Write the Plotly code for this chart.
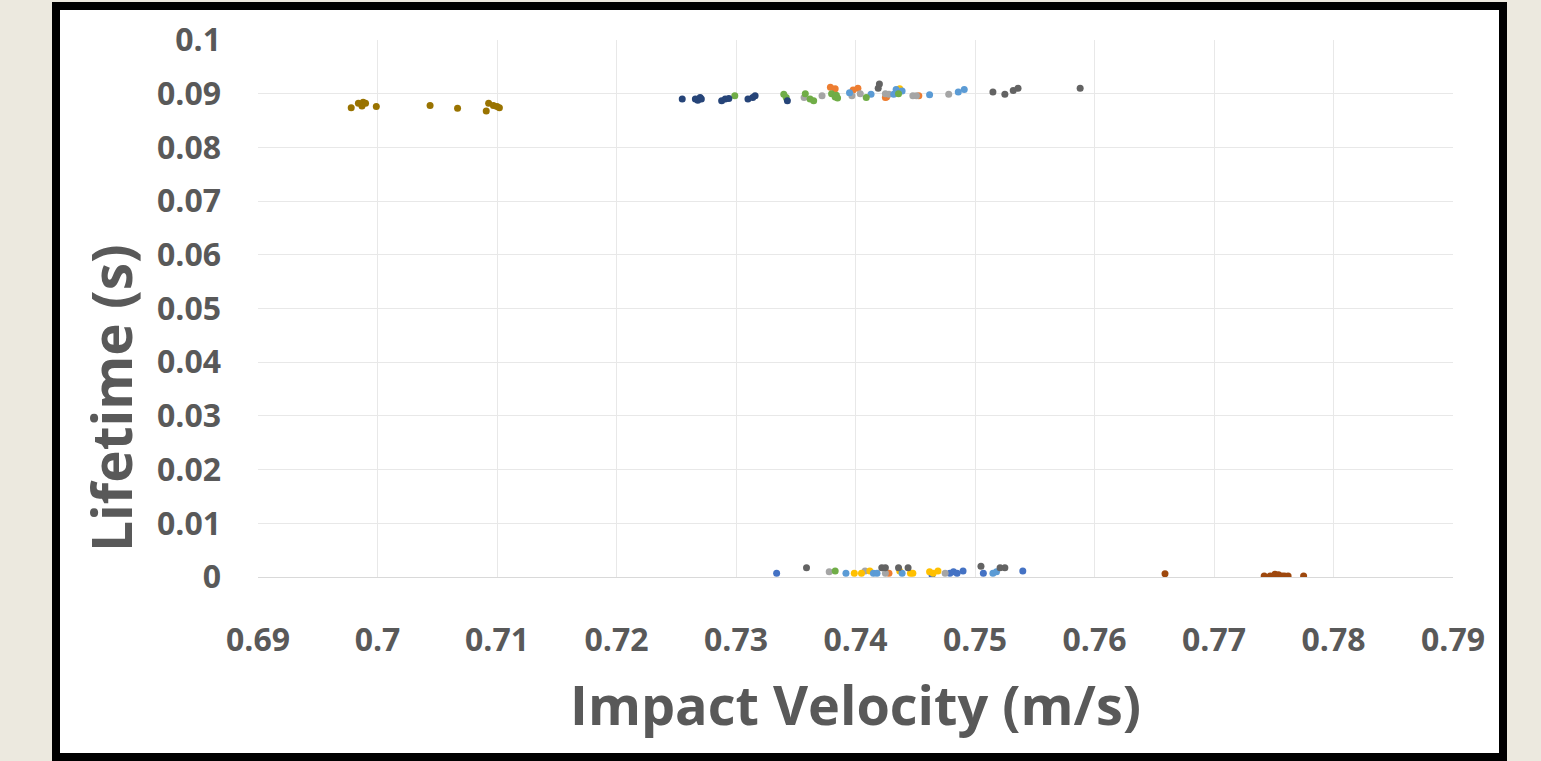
import plotly.graph_objects as go

# ---------------- data ----------------
gold_x = [0.6978, 0.6984, 0.6987, 0.6988, 0.6990, 0.6999, 0.7044, 0.7067, 0.7091, 0.7093, 0.7097, 0.7100, 0.7102]
gold_y = [0.0874, 0.0882, 0.0877, 0.0884, 0.0882, 0.0876, 0.0878, 0.0873, 0.0868, 0.0882, 0.0878, 0.0876, 0.0874]

navy_x = [0.7255, 0.7266, 0.7268, 0.7270, 0.7271, 0.7288, 0.7291, 0.7294, 0.7310, 0.7314, 0.7316, 0.7343]
navy_y = [0.0890, 0.0890, 0.0888, 0.0893, 0.0890, 0.0887, 0.0890, 0.0891, 0.0890, 0.0893, 0.0896, 0.0887]

green_x = [0.7299, 0.7340, 0.7342, 0.7358, 0.7362, 0.7365, 0.7380, 0.7383, 0.7385, 0.7384, 0.7409, 0.7436, 0.7383]
green_y = [0.0896, 0.0899, 0.0893, 0.0900, 0.0890, 0.0887, 0.0900, 0.0894, 0.0892, 0.0897, 0.0893, 0.0900, 0.0011]

gray_x = [0.7357, 0.7372, 0.7397, 0.7404, 0.7425, 0.7428, 0.7448, 0.7451, 0.7478, 0.7378, 0.7408, 0.7425, 0.7475]
gray_y = [0.0893, 0.0896, 0.0896, 0.0900, 0.0900, 0.0899, 0.0896, 0.0896, 0.0899, 0.0010, 0.0011, 0.0007, 0.0007]

orange_x = [0.7379, 0.7383, 0.7398, 0.7402, 0.7425, 0.7426, 0.7453, 0.7428]
orange_y = [0.0912, 0.0909, 0.0907, 0.0910, 0.0893, 0.0894, 0.0896, 0.0007]

lightblue_x = [0.7395, 0.7413, 0.7432, 0.7434, 0.7439, 0.7462, 0.7486, 0.7491,
               0.7392, 0.7415, 0.7418, 0.7439, 0.7515, 0.7518]
lightblue_y = [0.0902, 0.0899, 0.0899, 0.0908, 0.0905, 0.0898, 0.0903, 0.0908,
               0.0007, 0.0007, 0.0007, 0.0007, 0.0007, 0.0010]

darkgray_x = [0.7419, 0.7420, 0.7515, 0.7525, 0.7532, 0.7536, 0.7588,
              0.7359, 0.7422, 0.7425, 0.7436, 0.7444, 0.7505, 0.7521, 0.7525]
darkgray_y = [0.0910, 0.0918, 0.0903, 0.0899, 0.0906, 0.0910, 0.0910,
              0.0017, 0.0017, 0.0017, 0.0017, 0.0017, 0.0020, 0.0017, 0.0017]

yellow_x = [0.7437, 0.7399, 0.7405, 0.7412, 0.7437, 0.7446, 0.7448, 0.7462, 0.7465, 0.7469]
yellow_y = [0.0909, 0.0007, 0.0007, 0.0011, 0.0011, 0.0007, 0.0007, 0.0010, 0.0007, 0.0011]

blue_x = [0.7334, 0.7464, 0.7479, 0.7482, 0.7485, 0.7490, 0.7507, 0.7540]
blue_y = [0.0007, 0.0004, 0.0007, 0.0010, 0.0007, 0.0011, 0.0007, 0.0011]

brown_x = [0.7659, 0.7742, 0.7747, 0.7751, 0.7754, 0.7757, 0.7759, 0.7762, 0.7775]
brown_y = [0.0006, 0.0002, 0.0002, 0.0005, 0.0004, 0.0002, 0.0002, 0.0002, 0.0002]

x_ticks = [0.69, 0.70, 0.71, 0.72, 0.73, 0.74, 0.75, 0.76, 0.77, 0.78, 0.79]
x_tick_labels = ["0.69", "0.7", "0.71", "0.72", "0.73", "0.74", "0.75", "0.76", "0.77", "0.78", "0.79"]
y_ticks = [0, 0.01, 0.02, 0.03, 0.04, 0.05, 0.06, 0.07, 0.08, 0.09, 0.1]
y_tick_labels = ["0", "0.01", "0.02", "0.03", "0.04", "0.05", "0.06", "0.07", "0.08", "0.09", "0.1"]

series = [
    (blue_x, blue_y, "#4472C4"),
    (orange_x, orange_y, "#ED7D31"),
    (gray_x, gray_y, "#A5A5A5"),
    (yellow_x, yellow_y, "#FFC000"),
    (lightblue_x, lightblue_y, "#5B9BD5"),
    (green_x, green_y, "#70AD47"),
    (navy_x, navy_y, "#264478"),
    (brown_x, brown_y, "#9E480E"),
    (darkgray_x, darkgray_y, "#636363"),
    (gold_x, gold_y, "#997300"),
]

W, H = 1541, 761
L, R, T, B = 258, 1453, 40, 577

fig = go.Figure()
for xs, ys, c in series:
    fig.add_trace(go.Scatter(x=xs, y=ys, mode="markers",
                             marker=dict(size=7, color=c, line=dict(width=0)),
                             showlegend=False, hoverinfo="x+y"))

txt = "#595959"
font_family = "'Open Sans', Lato, sans-serif"

def px_x(p):
    return (p - L) / (R - L)

def px_y(p):
    return (B - p) / (B - T)

fig.update_layout(
    width=W, height=H,
    margin=dict(l=L, r=W - R, t=T, b=H - B, autoexpand=False),
    paper_bgcolor="#ECE9DF",
    plot_bgcolor="rgba(0,0,0,0)",
    xaxis=dict(range=[0.69, 0.79], tickvals=x_ticks, ticktext=x_tick_labels,
               showgrid=True, gridcolor="#E8E8E8", gridwidth=1,
               zeroline=False, showline=True, linecolor="#D9D9D9", linewidth=1.3,
               ticks="", ticklabelstandoff=34,
               tickfont=dict(family=font_family, size=32, color=txt, weight="bold")),
    yaxis=dict(range=[0, 0.1], tickvals=y_ticks, ticktext=y_tick_labels,
               showgrid=True, gridcolor="#E8E8E8", gridwidth=1,
               zeroline=False, showline=False,
               ticks="", ticklabelstandoff=36,
               tickfont=dict(family=font_family, size=32, color=txt, weight="bold")),
    shapes=[dict(type="rect", xref="paper", yref="paper", layer="below",
                 x0=px_x(56), x1=px_x(1503), y0=px_y(757), y1=px_y(6),
                 line=dict(color="black", width=8), fillcolor="white")],
    annotations=[
        dict(text="Impact Velocity (m/s)", xref="paper", yref="paper",
             x=px_x(855), y=px_y(704), showarrow=False, xanchor="center", yanchor="middle",
             font=dict(family=font_family, size=54, color=txt, weight="bold")),
        dict(text="Lifetime (s)", xref="paper", yref="paper", textangle=-90,
             x=px_x(110), y=px_y(398), showarrow=False, xanchor="center", yanchor="middle",
             font=dict(family=font_family, size=55, color=txt, weight="bold")),
    ],
)

fig.write_html("out.html", config={"displayModeBar": False},
               post_script="document.body.style.margin='0px';")
